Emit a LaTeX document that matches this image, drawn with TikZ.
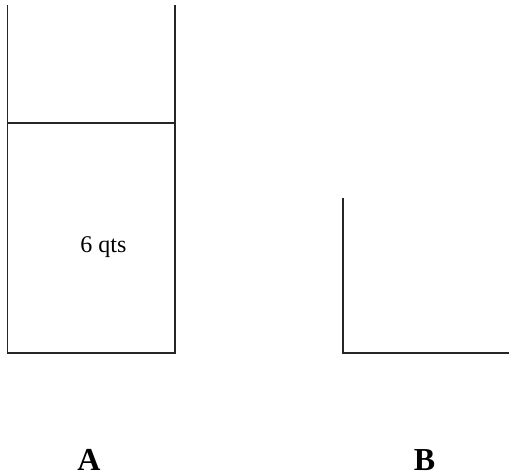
\documentclass[tikz,border=0pt]{standalone}
\usepackage{fontspec}
\setmainfont{Liberation Serif}
\begin{document}
\begin{tikzpicture}[x=1pt,y=-1pt,
  wall/.style={line width=1.6pt, draw=black!85, line cap=rect},
  qty/.style={font=\fontsize{24}{24}\selectfont, inner sep=0pt},
  tag/.style={font=\fontsize{32}{32}\selectfont\bfseries, inner sep=0pt}]
  \useasboundingbox (0,0) rectangle (509,476);
  % container A: open top, filled to the level line
  \coordinate (atl) at (7.5,6);
  \coordinate (abl) at (7.5,353);
  \coordinate (abr) at (175,353);
  \coordinate (atr) at (175,6);
  \coordinate (lvl1) at (7.5,123);
  \coordinate (lvl2) at (175,123);
  \draw[wall] (atl) -- (abl) -- (abr) -- (atr);
  \draw[wall] (lvl1) -- (lvl2);
  \node[qty] (amount) at (103.5,247) {6 qts};
  % container B: left wall and floor
  \coordinate (btl) at (343,199);
  \coordinate (bbl) at (343,353);
  \coordinate (bbr) at (512,353);
  \draw[wall] (btl) -- (bbl) -- (bbr);
  % labels
  \node[tag, anchor=base] (la) at (89,470) {A};
  \node[tag, anchor=base] (lb) at (424.5,470) {B};
\end{tikzpicture}
\end{document}
